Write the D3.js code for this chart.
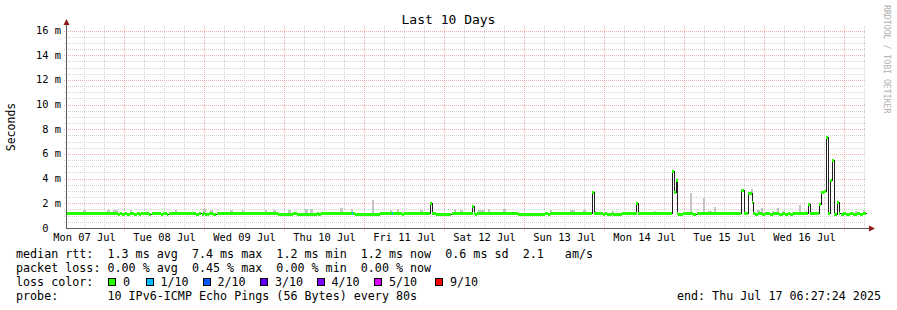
<!DOCTYPE html>
<html>
<head>
<meta charset="utf-8">
<script src="https://cdn.jsdelivr.net/npm/d3@7"></script>
<style>
  body { margin: 0; background: #fff; }
  text { font-family: "DejaVu Sans Mono", monospace; fill: #000; }
</style>
</head>
<body>
<svg id="chart" width="897" height="310"></svg>
<script>
// time is kept as fractional day-of-July (7.5 = Jul 7 12:00)
const startDay = 7.26903;   // Mon Jul 7 06:27:24
const endDay = 17.26903;    // Thu Jul 17 06:27:24

const dayLabels = ["Mon 07 Jul", "Tue 08 Jul", "Wed 09 Jul", "Thu 10 Jul", "Fri 11 Jul",
  "Sat 12 Jul", "Sun 13 Jul", "Mon 14 Jul", "Tue 15 Jul", "Wed 16 Jul"];
const yTicks = [0, 2, 4, 6, 8, 10, 12, 14, 16];

// median rtt (ms) as steps: [from day, value]
const medianSteps = [
  [7.269, 1.25],
  [7.922, 1.16], [7.944, 1.25], [7.965, 1.16], [8.006, 1.25], [8.027, 1.16], [8.069, 1.25],
  [8.119, 1.16], [8.152, 1.25], [8.185, 1.16], [8.210, 1.25], [8.310, 1.16], [8.340, 1.25],
  [8.456, 1.16], [8.485, 1.25], [8.535, 1.16], [8.553, 1.25], [8.894, 1.16], [8.935, 1.25],
  [8.965, 1.16], [8.985, 1.25], [9.010, 1.16], [9.060, 1.25], [9.110, 1.16], [9.152, 1.25],
  [9.919, 1.16], [10.106, 1.25], [10.152, 1.16], [10.402, 1.25], [10.423, 1.16], [10.456, 1.25],
  [10.881, 1.16], [11.194, 1.25], [11.465, 1.16], [11.494, 1.25],
  [11.819, 2.0], [11.850, 1.25], [11.900, 1.16], [12.090, 1.25],
  [12.347, 1.8], [12.375, 1.25], [12.381, 1.16], [12.402, 1.25],
  [12.913, 1.16], [13.256, 1.25], [13.294, 1.16], [13.319, 1.25],
  [13.844, 2.9], [13.869, 1.25], [13.978, 1.16], [14.006, 1.25], [14.027, 1.16], [14.090, 1.25],
  [14.106, 1.16], [14.215, 1.25], [14.397, 2.0], [14.425, 1.25],
  [14.844, 4.6], [14.865, 2.95], [14.888, 3.9], [14.910, 1.25], [14.923, 1.16], [14.985, 1.25],
  [15.110, 1.16], [15.152, 1.25], [15.706, 3.1], [15.738, 1.25],
  [15.794, 2.8], [15.848, 2.1], [15.860, 1.25], [15.881, 1.16], [15.919, 1.25],
  [15.965, 1.16], [16.006, 1.25], [16.069, 1.16], [16.110, 1.25], [16.185, 1.16], [16.235, 1.25],
  [16.256, 1.16], [16.298, 1.25], [16.319, 1.16], [16.360, 1.25],
  [16.547, 1.95], [16.575, 1.25],
  [16.685, 1.95], [16.706, 2.95], [16.738, 3.0], [16.769, 7.4], [16.790, 1.25],
  [16.819, 3.85], [16.840, 5.5], [16.865, 1.16], [16.906, 2.1], [16.935, 1.25],
  [16.953, 1.16], [16.985, 1.25], [17.019, 1.16], [17.069, 1.25], [17.106, 1.16], [17.156, 1.25],
  [17.194, 1.16], [17.231, 1.25]
];

// smoke (slowest pings): [from day, to day, top ms]
const smokeBars = [
  [7.485, 7.519, 1.45], [7.777, 7.810, 1.45], [7.856, 7.919, 1.45], [8.069, 8.090, 1.45],
  [8.631, 8.660, 1.45], [8.985, 9.027, 1.55], [9.069, 9.110, 1.45], [9.319, 9.353, 1.45],
  [9.465, 9.494, 1.45], [9.756, 9.785, 1.45], [9.860, 9.894, 1.45], [10.048, 10.090, 1.45],
  [10.256, 10.298, 1.5], [10.319, 10.360, 1.5], [10.694, 10.728, 1.65], [10.827, 10.853, 1.55],
  [11.090, 11.119, 2.3], [11.319, 11.340, 1.45], [11.402, 11.431, 1.5], [11.694, 11.728, 1.45],
  [12.119, 12.144, 1.5], [12.194, 12.235, 1.45], [12.423, 12.506, 1.45], [12.548, 12.578, 1.5],
  [12.735, 12.778, 1.5], [13.319, 13.340, 1.45], [13.569, 13.631, 1.45], [13.735, 13.778, 1.45],
  [13.869, 13.894, 1.4], [14.090, 14.119, 1.4], [14.619, 14.644, 1.4], [15.069, 15.094, 2.85],
  [15.228, 15.256, 2.45], [15.290, 15.340, 1.4], [15.373, 15.403, 1.7], [15.831, 15.856, 3.15],
  [15.902, 15.935, 1.45], [15.956, 15.981, 1.65], [16.090, 16.119, 1.4], [16.152, 16.181, 1.65],
  [16.215, 16.256, 1.4], [16.427, 16.456, 1.85], [16.506, 16.528, 1.4], [16.715, 16.756, 3.0],
  [17.131, 17.160, 1.4], [17.235, 17.260, 1.45]
];

// packet loss events: [from day, to day, lost pings of 10]
const lossEvents = [[10.850, 10.863, 1], [11.340, 11.353, 1]];

const lossLabels = ["0", "1/10", "2/10", "3/10", "4/10", "5/10", "9/10"];
const lossLevels = [0, 1, 2, 3, 4, 5, 9];
const lossColors = ["#26ff00", "#00b8ff", "#0059ff", "#5e00ff", "#7e00ff", "#dd00ff", "#ff0000"];

const statLines = [
  "median rtt:  1.3 ms avg  7.4 ms max  1.2 ms min  1.2 ms now  0.6 ms sd  2.1   am/s",
  "packet loss: 0.00 % avg  0.45 % max  0.00 % min  0.00 % now",
  "loss color:",
  "probe:       10 IPv6-ICMP Echo Pings (56 Bytes) every 80s"
];
const endText = "end: Thu Jul 17 06:27:24 2025";

// ---- setup
const svg = d3.select("#chart");
const width = +svg.attr("width");

const plotLeft = 66, plotRight = 866, plotTop = 26, plotBottom = 228;

const x = d3.scaleLinear().domain([startDay, endDay]).range([plotLeft, plotRight]);
const y = d3.scaleLinear().domain([0, 16.37]).range([plotBottom, plotTop]);

svg.append("rect").attr("width", 897).attr("height", 310).attr("fill", "#fff");

const px = (v) => Math.round(v) + 0.5;

// ---- grid
const grid = svg.append("g").attr("shape-rendering", "crispEdges");
const minorY = d3.range(0.5, 16.37, 0.5).filter((v) => v % 2 !== 0);
const minorX = d3.range(7.5, endDay, 0.25).filter((v) => v % 1 !== 0);
const majorX = d3.range(8, endDay, 1);

grid.selectAll(".hmin").data(minorY).enter().append("line")
  .attr("x1", plotLeft - 2).attr("x2", plotRight)
  .attr("y1", (d) => px(y(d))).attr("y2", (d) => px(y(d)))
  .attr("stroke", "#d2d2d2").attr("stroke-dasharray", "1,1");
grid.selectAll(".vmin").data(minorX).enter().append("line")
  .attr("y1", plotTop).attr("y2", plotBottom + 2)
  .attr("x1", (d) => px(x(d))).attr("x2", (d) => px(x(d)))
  .attr("stroke", "#d2d2d2").attr("stroke-dasharray", "1,1");
grid.selectAll(".hmaj").data(yTicks.slice(1)).enter().append("line")
  .attr("x1", plotLeft - 2).attr("x2", plotRight)
  .attr("y1", (d) => px(y(d))).attr("y2", (d) => px(y(d)))
  .attr("stroke", "#f5acac").attr("stroke-dasharray", "1,1");
grid.selectAll(".vmaj").data(majorX).enter().append("line")
  .attr("y1", plotTop).attr("y2", plotBottom + 3)
  .attr("x1", (d) => px(x(d))).attr("x2", (d) => px(x(d)))
  .attr("stroke", "#f5acac").attr("stroke-dasharray", "1,1");

// ---- data
const data = svg.append("g").attr("shape-rendering", "crispEdges");

const stepEnd = (i) => (i + 1 < medianSteps.length ? medianSteps[i + 1][0] : endDay);
const medianAt = (day) => {
  let v = medianSteps[0][1];
  medianSteps.forEach((s) => { if (s[0] <= day) v = s[1]; });
  return v;
};

data.selectAll(".smoke").data(smokeBars).enter().append("rect")
  .attr("x", (d) => Math.round(x(d[0])))
  .attr("width", (d) => Math.max(1, Math.round(x(d[1]) - x(d[0]))))
  .attr("y", (d) => Math.round(y(d[2])))
  .attr("height", (d) => Math.max(1, Math.round(y(medianAt(d[0])) - y(d[2]))))
  .attr("fill", "#c4c4c4");

const stepPoints = medianSteps.concat([[endDay, medianSteps[medianSteps.length - 1][1]]]);
const medianLine = d3.line()
  .x((d) => px(x(d[0])))
  .y((d) => px(y(d[1])))
  .curve(d3.curveStepAfter);

data.append("path")
  .attr("d", medianLine(stepPoints))
  .attr("fill", "none")
  .attr("stroke", "#202020")
  .attr("stroke-width", 1.3);

data.selectAll(".band").data(medianSteps).enter().append("rect")
  .attr("x", (d) => Math.round(x(d[0])))
  .attr("width", (d, i) => Math.max(1, Math.round(x(stepEnd(i)) - x(d[0]))))
  .attr("y", (d) => Math.round(y(d[1])) - 1)
  .attr("height", 3)
  .attr("fill", lossColors[0]);

data.selectAll(".loss").data(lossEvents).enter().append("rect")
  .attr("x", (d) => Math.round(x(d[0])))
  .attr("width", (d) => Math.max(1, Math.round(x(d[1]) - x(d[0]))))
  .attr("y", (d) => Math.round(y(medianAt(d[0]))) - 1)
  .attr("height", 3)
  .attr("fill", (d) => lossColors[lossLevels.indexOf(d[2])]);

// ---- axes
const axis = svg.append("g").attr("shape-rendering", "crispEdges");
axis.append("line")
  .attr("x1", plotLeft + 0.5).attr("x2", plotLeft + 0.5)
  .attr("y1", plotBottom + 0.5).attr("y2", plotTop - 4)
  .attr("stroke", "#5a5a5a");
axis.append("line")
  .attr("x1", plotLeft).attr("x2", plotRight + 4)
  .attr("y1", plotBottom + 0.5).attr("y2", plotBottom + 0.5)
  .attr("stroke", "#5a5a5a");
svg.append("path")
  .attr("d", `M${plotLeft - 2.5},${plotTop - 1}L${plotLeft + 3.5},${plotTop - 1}L${plotLeft + 0.5},${plotTop - 7}Z`)
  .attr("fill", "#8b1a1a");
svg.append("path")
  .attr("d", `M${plotRight + 3},${plotBottom - 2.5}L${plotRight + 3},${plotBottom + 3.5}L${plotRight + 9},${plotBottom + 0.5}Z`)
  .attr("fill", "#8b1a1a");

// "0" keeps the digit column of the "n m" labels
svg.selectAll(".ylab").data(yTicks).enter().append("text")
  .attr("x", 61)
  .attr("y", (d) => y(d) + 3.5)
  .attr("text-anchor", "end")
  .attr("font-size", 10.4)
  .attr("xml:space", "preserve")
  .style("white-space", "pre")
  .text((d) => (d === 0 ? "0  " : d + " m"));

svg.selectAll(".xlab").data(dayLabels).enter().append("text")
  .attr("x", (d, i) => x(7.5 + i))
  .attr("y", 241)
  .attr("text-anchor", "middle")
  .attr("font-size", 10.4)
  .text((d) => d);

// ---- titles
svg.append("text")
  .attr("x", width / 2)
  .attr("y", 24)
  .attr("text-anchor", "middle")
  .attr("font-size", 13)
  .text("Last 10 Days");

svg.append("text")
  .attr("transform", "translate(15,127) rotate(-90)")
  .attr("text-anchor", "middle")
  .attr("font-size", 11.5)
  .text("Seconds");

svg.append("text")
  .attr("transform", "translate(884,5) rotate(90)")
  .attr("font-size", 8.2)
  .style("fill", "#b0b0b0")
  .text("RRDTOOL / TOBI OETIKER");

// ---- legend
svg.selectAll(".stat").data(statLines).enter().append("text")
  .attr("x", 16)
  .attr("y", (d, i) => 257.5 + i * 14)
  .attr("font-size", 11.7)
  .attr("xml:space", "preserve")
  .style("white-space", "pre")
  .text((d) => d);

const boxX = [108, 145.5, 202.5, 260, 316.5, 374, 435];
const legend = svg.append("g");
legend.selectAll(".box").data(lossLabels).enter().append("rect")
  .attr("x", (d, i) => Math.round(boxX[i]) + 0.5)
  .attr("y", 278.5)
  .attr("width", 7)
  .attr("height", 7)
  .attr("fill", (d, i) => lossColors[i])
  .attr("stroke", "#000")
  .attr("shape-rendering", "crispEdges");
legend.selectAll(".lbl").data(lossLabels).enter().append("text")
  .attr("x", (d, i) => boxX[i] + 15)
  .attr("y", 285.5)
  .attr("font-size", 11.7)
  .text((d) => d);

svg.append("text")
  .attr("x", 881)
  .attr("y", 299.5)
  .attr("text-anchor", "end")
  .attr("font-size", 11.7)
  .text(endText);
</script>
</body>
</html>
